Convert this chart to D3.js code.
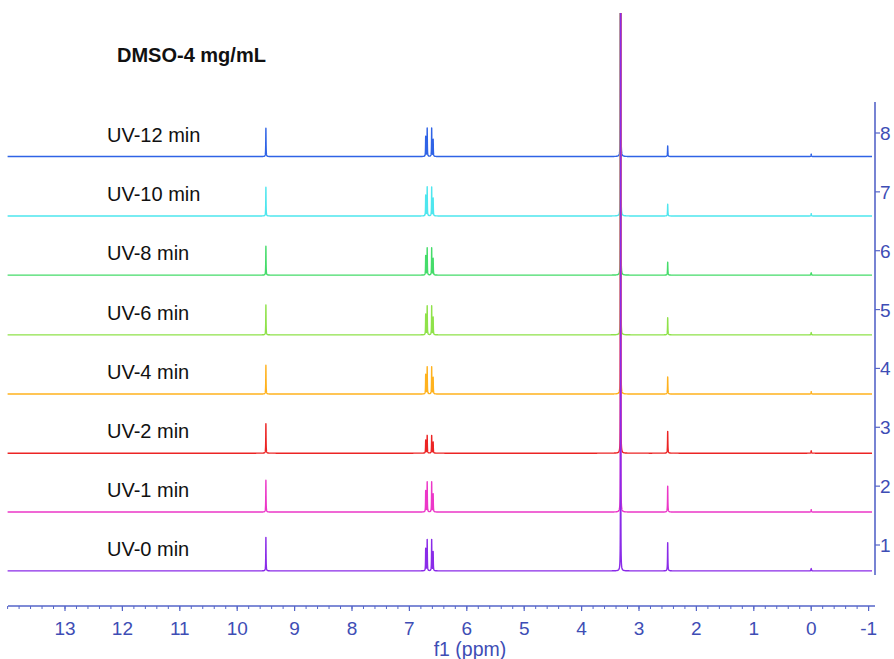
<!DOCTYPE html>
<html>
<head>
<meta charset="utf-8">
<script src="https://cdn.jsdelivr.net/npm/d3@7/dist/d3.min.js"></script>
<style>
  html, body { margin: 0; padding: 0; background: #fff; }
  svg { display: block; font-family: "Liberation Sans", Arial, sans-serif; }
</style>
</head>
<body>
<svg id="chart" width="894" height="659"></svg>
<script>
// Stacked 1H NMR spectra, DMSO-d6, 4 mg/mL, after increasing UV exposure
const seriesNames = ["UV-0 min", "UV-1 min", "UV-2 min", "UV-4 min", "UV-6 min", "UV-8 min", "UV-10 min", "UV-12 min"];
const seriesColors = ["#8a2be8", "#ec37c8", "#ec2424", "#ffb21e", "#8fe24a", "#45dc6a", "#4ee6ee", "#2f63e6"];
// vertical offset of each trace, in units of the right-hand axis
const seriesOffsets = [0.56, 1.56, 2.56, 3.565, 4.57, 5.585, 6.59, 7.6];

// peak positions (ppm)
const peakPpm = [9.50, 6.716, 6.690, 6.612, 6.586, 3.32, 2.50, 0.00];
// peak heights per series (right-axis units), same order as peakPpm
const aldehydeH = [0.57, 0.54, 0.50, 0.49, 0.51, 0.49, 0.49, 0.48];
const aromOuterH = [0.38, 0.36, 0.22, 0.33, 0.35, 0.33, 0.35, 0.34];
const aromInnerH = [0.53, 0.51, 0.30, 0.46, 0.49, 0.46, 0.49, 0.48];
const waterH = [20, 20, 20, 20, 20, 20, 20, 20];
const dmsoH = [0.48, 0.44, 0.37, 0.29, 0.29, 0.22, 0.20, 0.18];
const tmsH = [0.04, 0.04, 0.04, 0.04, 0.04, 0.04, 0.04, 0.04];
const peakWidth = [0.006, 0.006, 0.006, 0.006, 0.006, 0.0022, 0.007, 0.008];

const xTicks = [13, 12, 11, 10, 9, 8, 7, 6, 5, 4, 3, 2, 1, 0, -1];
const yTicks = [1, 2, 3, 4, 5, 6, 7, 8];

const axisColor = "#5565c8";
const labelColor = "#3e4db5";

const svg = d3.select("#chart");

const x = d3.scaleLinear().domain([14, -1]).range([7.6, 868.6]);
const y = d3.scaleLinear().domain([1, 8]).range([545, 133]);

// clip region for the traces (tall solvent peak runs off the top)
svg.append("defs").append("clipPath").attr("id", "plotClip")
  .append("rect").attr("x", 0).attr("y", y(10.04)).attr("width", 894).attr("height", 600);

function heightsFor(i) {
  return [aldehydeH[i], aromOuterH[i], aromInnerH[i], aromInnerH[i], aromOuterH[i] * 0.85, waterH[i], dmsoH[i], tmsH[i]];
}

// sample a sum of Lorentzian lines, densely near each line
function traceOf(i) {
  const hs = heightsFor(i);
  const pts = new Set();
  for (let p = 14.0; p >= -1.06; p -= 0.02) pts.add(+p.toFixed(4));
  pts.add(-1.06);
  peakPpm.forEach(c => {
    for (let d = -0.12; d <= 0.12; d += 0.0006) pts.add(+(c + d).toFixed(4));
  });
  const arr = Array.from(pts).filter(p => p <= 14 && p >= -1.06).sort((a, b) => b - a);
  return arr.map(p => {
    let v = 0;
    peakPpm.forEach((c, k) => {
      const g = peakWidth[k] / 2;
      v += hs[k] * g * g / ((p - c) * (p - c) + g * g);
    });
    return [p, seriesOffsets[i] + v];
  });
}

const line = d3.line().x(d => x(d[0])).y(d => y(d[1]));

const traces = svg.append("g").attr("clip-path", "url(#plotClip)");
// draw from the top trace down so the lowest sits on top
for (let i = seriesNames.length - 1; i >= 0; i--) {
  traces.append("path")
    .attr("d", line(traceOf(i)))
    .attr("fill", "none")
    .attr("stroke", seriesColors[i])
    .attr("stroke-width", 1.4)
    .attr("stroke-linejoin", "round");
}

// trace labels
seriesNames.forEach((name, i) => {
  svg.append("text")
    .attr("x", 107)
    .attr("y", y(seriesOffsets[i]) - 15)
    .attr("font-size", 20)
    .attr("fill", "#111")
    .text(name);
});

// title
svg.append("text")
  .attr("x", 117).attr("y", 62)
  .attr("font-size", 20).attr("font-weight", "bold").attr("fill", "#111")
  .text("DMSO-4 mg/mL");

// bottom ppm axis
const xAxis = svg.append("g").attr("transform", "translate(0,606)");
xAxis.append("line")
  .attr("x1", 8).attr("x2", 875).attr("y1", 0).attr("y2", 0)
  .attr("stroke", axisColor).attr("stroke-width", 1.6);
const minor = d3.range(0, 76).map(k => 14 - k * 0.2).filter(v => v >= -1.001);
xAxis.selectAll("line.minor").data(minor).join("line")
  .attr("class", "minor")
  .attr("x1", d => x(d)).attr("x2", d => x(d))
  .attr("y1", 0).attr("y2", 3)
  .attr("stroke", axisColor).attr("stroke-width", 1);
xAxis.selectAll("line.major").data(xTicks).join("line")
  .attr("class", "major")
  .attr("x1", d => x(d)).attr("x2", d => x(d))
  .attr("y1", 0).attr("y2", 5)
  .attr("stroke", axisColor).attr("stroke-width", 1.2);
xAxis.selectAll("text").data(xTicks).join("text")
  .attr("x", d => x(d)).attr("y", 29)
  .attr("text-anchor", "middle")
  .attr("font-size", 19).attr("fill", labelColor)
  .text(d => d < 0 ? "-" + Math.abs(d) : d);
svg.append("text")
  .attr("x", 470).attr("y", 656)
  .attr("text-anchor", "middle")
  .attr("font-size", 19.5).attr("fill", labelColor)
  .text("f1 (ppm)");

// right intensity axis
const yAxis = svg.append("g").attr("transform", "translate(875,0)");
yAxis.append("line")
  .attr("x1", 0).attr("x2", 0).attr("y1", 102).attr("y2", 575)
  .attr("stroke", axisColor).attr("stroke-width", 1.6);
yAxis.selectAll("line.tick").data(yTicks).join("line")
  .attr("class", "tick")
  .attr("x1", 0).attr("x2", 5)
  .attr("y1", d => y(d)).attr("y2", d => y(d))
  .attr("stroke", axisColor).attr("stroke-width", 1.2);
yAxis.selectAll("text").data(yTicks).join("text")
  .attr("x", 5).attr("y", d => y(d) + 7)
  .attr("font-size", 19).attr("fill", labelColor)
  .text(d => d);
</script>
</body>
</html>
